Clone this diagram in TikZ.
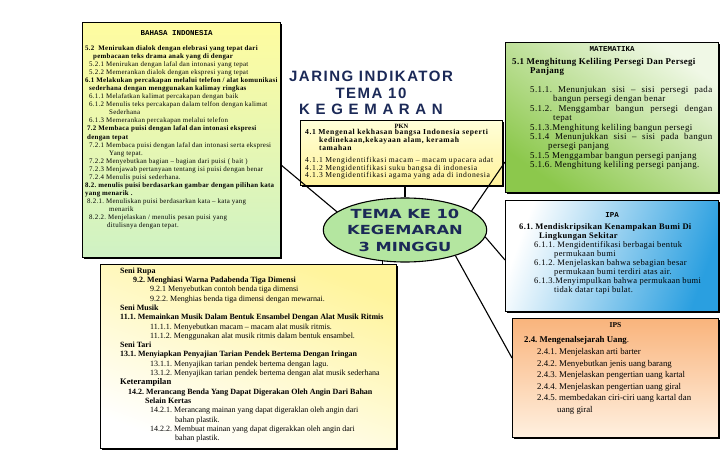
\documentclass[tikz,border=0pt]{standalone}
\usepackage{fontspec}
\setmainfont{Liberation Serif}
\setmonofont{Liberation Mono}
\newfontfamily\lebarfont[LetterSpace=8]{Liberation Serif}
\newfontfamily\renggangfont[LetterSpace=4]{Liberation Serif}
\newfontfamily\judulfont[LetterSpace=10]{Liberation Sans}
\newfontfamily\temafont[FakeStretch=1.3]{DejaVu Sans}
\usetikzlibrary{calc,shadows,shapes.geometric}
\definecolor{bhsatas}{HTML}{FFFCA0}
\definecolor{bhsbawah}{HTML}{CFF2C4}
\definecolor{pknatas}{HTML}{FFFFD8}
\definecolor{pknbawah}{HTML}{FFF29C}
\definecolor{matterang}{HTML}{F0F8E6}
\definecolor{matgelap}{HTML}{8CC84C}
\definecolor{ipaterang}{HTML}{FFFFFF}
\definecolor{ipagelap}{HTML}{2A9FE0}
\definecolor{ipsatas}{HTML}{F9B47C}
\definecolor{ipsbawah}{HTML}{FFF0E0}
\definecolor{seniatas}{HTML}{FFF49C}
\definecolor{temahijau}{HTML}{B4E6A0}
\definecolor{biru}{HTML}{1B2957}
\frenchspacing

\begin{document}
\begin{tikzpicture}[x=1pt,y=-1pt]
        \tikzstyle{kotak} = [rectangle, draw=black, line width=1.1pt, anchor=north west, inner sep=0pt, general shadow={fill=black, shadow xshift=1.8pt, shadow yshift=-1.8pt}]
        \tikzstyle{isi} = [anchor=north west, align=left, inner sep=0pt]
        \tikzstyle{judul_mono} = [inner sep=0pt, font=\fontsize{7.5}{8}\selectfont\ttfamily\bfseries]
        \tikzstyle{judul_serif} = [inner sep=0pt, font=\fontsize{7.5}{8}\selectfont\bfseries]
        \tikzstyle{garis} = [draw=black, line width=1.1pt]
        \useasboundingbox (0,0) rectangle (728,476);

        \node (judul) [inner sep=0pt, align=center, text=biru, font=\fontsize{15}{16.8}\selectfont\judulfont\bfseries] at (371,93) {JARING INDIKATOR\\TEMA 10\\K E G E M A R A N};

        \node (bahasa) [kotak, minimum width=198pt, minimum height=235pt, top color=bhsatas, bottom color=bhsbawah] at (82,22) {};
        \node (bahasa_judul) [judul_mono] at ($(bahasa.north)+(-5,11)$) {BAHASA INDONESIA};
        \node (bahasa_isi) [isi, font=\fontsize{6.9}{8.05}\selectfont\renggangfont] at ($(bahasa.north west)+(3,23.5)$) {%
\textbf{5.2\ \ Menirukan dialok dengan elebrasi yang tepat dari}\\
\hspace*{8pt}\textbf{pembacaan teks drama anak yang di dengar}\\
\hspace*{4pt}5.2.1 Menirukan dengan lafal dan intonasi yang tepat\\
\hspace*{4pt}5.2.2 Memerankan dialok dengan ekspresi yang tepat\\
\textbf{6.1 Melakukan percakapan melalui telefon / alat komunikasi}\\
\hspace*{4pt}\textbf{sederhana dengan menggunakan kalimay ringkas}\\
\hspace*{4pt}6.1.1 Melafatkan kalimat percakapan dengan baik\\
\hspace*{4pt}6.1.2 Menulis teks percakapan dalam telfon dengan kalimat\\
\hspace*{24pt}Sederhana\\
\hspace*{4pt}6.1.3 Memerankan percakapan melalui telefon\\
\hspace*{2pt}\textbf{7.2 Membaca puisi dengan lafal dan intonasi ekspresi}\\
\hspace*{2pt}\textbf{dengan tepat}\\
\hspace*{4pt}7.2.1 Membaca puisi dengan lafal dan intonasi serta ekspresi\\
\hspace*{24pt}Yang tepat.\\
\hspace*{4pt}7.2.2 Menyebutkan bagian – bagian dari puisi ( bait )\\
\hspace*{4pt}7.2.3 Menjawab pertanyaan tentang isi puisi dengan benar\\
\hspace*{4pt}7.2.4 Menulis puisi sederhana.\\
\textbf{8.2. menulis puisi berdasarkan gambar dengan pilihan kata}\\
\textbf{yang menarik .}\\
\hspace*{2pt}8.2.1. Menuliskan puisi berdasarkan kata – kata yang\\
\hspace*{24pt}menarik\\
\hspace*{4pt}8.2.2. Menjelaskan / menulis pesan puisi yang\\
\hspace*{22pt}ditulisnya dengan tepat.};

        \node (pkn) [kotak, minimum width=202pt, minimum height=65pt, top color=pknatas, bottom color=pknbawah] at (300,120) {};
        \node (pkn_judul) [judul_serif, font=\fontsize{6.5}{8}\selectfont\bfseries] at ($(pkn.north)+(0,6)$) {PKN};
        \node (pkn_isi) [isi, font=\fontsize{7.6}{7.9}\selectfont\lebarfont] at ($(pkn.north west)+(5,9.5)$) {%
\textbf{4.1 Mengenal kekhasan bangsa Indonesia seperti}\\
\hspace*{14pt}\textbf{kedinekaan,kekayaan alam, keramah}\\
\hspace*{14pt}\textbf{tamahan}\\[3.5pt]
4.1.1 Mengidentifikasi macam – macam upacara adat\\
4.1.2 Mengidentifikasi suku bangsa di indonesia\\
4.1.3 Mengidentifikasi agama yang ada di indonesia};

        \node (mat) [kotak, minimum width=213pt, minimum height=150pt, top color=matterang, bottom color=matgelap, shading angle=-35] at (505,42) {};
        \node (mat_judul) [judul_mono] at ($(mat.north)+(0,7)$) {MATEMATIKA};
        \node (mat_isi) [isi, font=\fontsize{8.9}{9.4}\selectfont\renggangfont] at ($(mat.north west)+(7,16)$) {%
\textbf{5.1 Menghitung Keliling Persegi Dan Persegi}\\
\hspace*{18pt}\textbf{Panjang}\\[9.4pt]
\hspace*{18pt}\makebox[182pt][s]{5.1.1. Menunjukan sisi – sisi persegi pada}\\
\hspace*{41pt}bangun persegi dengan benar\\
\hspace*{18pt}\makebox[182pt][s]{5.1.2. Menggambar bangun persegi dengan}\\
\hspace*{41pt}tepat\\
\hspace*{18pt}5.1.3.Menghitung keliling bangun persegi\\
\hspace*{18pt}\makebox[182pt][s]{5.1.4 Menunjukkan sisi – sisi pada bangun}\\
\hspace*{36pt}persegi panjang\\
\hspace*{18pt}5.1.5 Menggambar bangun persegi panjang\\
\hspace*{18pt}5.1.6. Menghitung keliling persegi panjang.};

        \node (ipa) [kotak, minimum width=213pt, minimum height=111pt, left color=ipaterang, right color=ipagelap, shading angle=70] at (505,200) {};
        \node (ipa_judul) [judul_mono] at ($(ipa.north)+(0,15)$) {IPA};
        \node (ipa_isi) [isi, font=\fontsize{8.5}{9}\selectfont\renggangfont] at ($(ipa.north west)+(14,23.5)$) {%
\textbf{6.1. Mendiskripsikan Kenampakan Bumi Di}\\
\hspace*{20pt}\textbf{Lingkungan Sekitar}\\
\hspace*{15pt}6.1.1. Mengidentifikasi berbagai bentuk\\
\hspace*{35pt}permukaan bumi\\
\hspace*{15pt}6.1.2. Menjelaskan bahwa sebagian besar\\
\hspace*{35pt}permukaan bumi terdiri atas air.\\
\hspace*{15pt}6.1.3.Menyimpulkan bahwa permukaan bumi\\
\hspace*{35pt}tidak datar tapi bulat.};

        \node (ips) [kotak, minimum width=206pt, minimum height=119pt, top color=ipsatas, bottom color=ipsbawah] at (512,318) {};
        \node (ips_judul) [judul_serif] at ($(ips.north)+(0,7)$) {IPS};
        \node (ips_isi) [isi, font=\fontsize{8.8}{11.6}\selectfont] at ($(ips.north west)+(12,18.5)$) {%
\textbf{2.4. Mengenalsejarah Uang}.\\
\hspace*{13pt}2.4.1. Menjelaskan arti barter\\
\hspace*{13pt}2.4.2. Menyebutkan jenis uang barang\\
\hspace*{13pt}2.4.3. Menjelaskan pengertian uang kartal\\
\hspace*{13pt}2.4.4. Menjelaskan pengertian uang giral\\
\hspace*{13pt}2.4.5. membedakan ciri-ciri uang kartal dan\\
\hspace*{33pt}uang giral};

        \node (seni) [kotak, minimum width=296pt, minimum height=184pt, top color=seniatas, bottom color=white, shading angle=-20] at (100,264) {};
        \node (seni_isi) [isi, font=\fontsize{8}{9.3}\selectfont] at ($(seni.north west)+(20,3.5)$) {%
\textbf{Seni Rupa}\\
\hspace*{13pt}\textbf{9.2. Menghiasi Warna Padabenda Tiga Dimensi}\\
\hspace*{30pt}9.2.1 Menyebutkan contoh benda tiga dimensi\\
\hspace*{30pt}9.2.2. Menghias benda tiga dimensi dengan mewarnai.\\
\textbf{Seni Musik}\\
\textbf{11.1. Memainkan Musik Dalam Bentuk Ensambel Dengan Alat Musik Ritmis}\\
\hspace*{30pt}11.1.1. Menyebutkan macam – macam alat musik ritmis.\\
\hspace*{30pt}11.1.2. Menggunakan alat musik ritmis dalam bentuk ensambel.\\
\textbf{Seni Tari}\\
\textbf{13.1. Menyiapkan Penyajian Tarian Pendek Bertema Dengan Iringan}\\
\hspace*{30pt}13.1.1. Menyajikan tarian pendek bertema dengan lagu.\\
\hspace*{30pt}13.1.2. Menyajikan tarian pendek bertema dengan alat musik sederhana\\
{\fontsize{8.6}{9.3}\selectfont\textbf{Keterampilan}}\\
\hspace*{8pt}\textbf{14.2. Merancang Benda Yang Dapat Digerakan Oleh Angin Dari Bahan}\\
\hspace*{25pt}\textbf{Selain Kertas}\\
\hspace*{30pt}14.2.1. Merancang mainan yang dapat digeraklan oleh angin dari\\
\hspace*{55pt}bahan plastik.\\
\hspace*{30pt}14.2.2. Membuat mainan yang dapat digerakkan oleh angin dari\\
\hspace*{55pt}bahan plastik.};

        \node (tema) [ellipse, draw=black, line width=1.1pt, fill=temahijau, minimum width=150pt, minimum height=64pt, inner sep=0pt, align=center, text=biru, font=\fontsize{12.5}{16.5}\selectfont\temafont\bfseries] at (405,230) {TEMA KE 10\\KEGEMARAN\\3 MINGGU};

        \draw[garis] (tema.north) -- (tema.north |- pkn.south);
        \draw[garis] (tema.165) -- ($(bahasa.north east)+(0,143)$);
        \draw[garis] (tema.16) -- ($(mat.north west)+(0,120)$);
        \draw[garis] (tema.-5) -- ($(ipa.north west)+(0,60)$);
        \draw[garis] (tema.-27) -- ($(ips.north west)+(0,40)$);
        \draw[garis] (tema.-126) -- (tema.-126 |- seni.north);
\end{tikzpicture}
\end{document}
